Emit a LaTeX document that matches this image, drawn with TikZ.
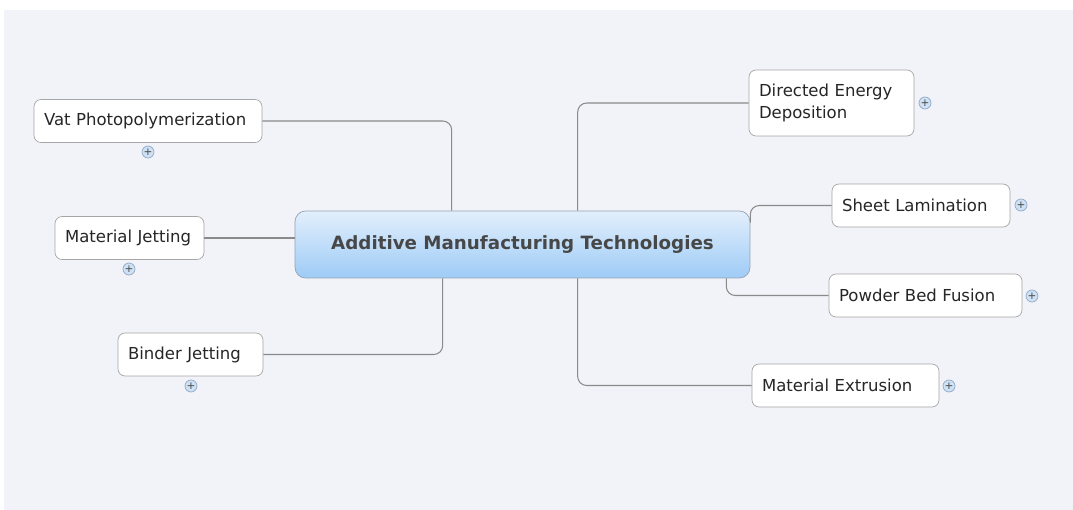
\documentclass[tikz,border=0pt]{standalone}
\usepackage{fontspec}
\setmainfont{DejaVu Sans}
\usepackage{xcolor}
\usetikzlibrary{calc}

\definecolor{canvas}{HTML}{F2F3F8}
\definecolor{boxline}{HTML}{A6A6A6}
\definecolor{linkline}{HTML}{8A8A8A}
\definecolor{boxtext}{HTML}{262626}
\definecolor{hubtop}{HTML}{E2EFFC}
\definecolor{hubbottom}{HTML}{9ECBF6}
\definecolor{hubline}{HTML}{94A3B5}
\definecolor{hubtext}{HTML}{474747}
\definecolor{plusfill}{HTML}{CFE1F4}
\definecolor{plusline}{HTML}{8FA9C8}

\begin{document}
\begin{tikzpicture}[x=0.02cm, y=-0.02cm,
  topic/.style={draw=boxline, fill=white, rounded corners=4pt, align=left, inner xsep=0.2cm, text=boxtext,
    minimum height=0.86cm, font=\fontsize{9.4}{12.5}\selectfont},
  hub/.style={draw=hubline, rounded corners=6pt, top color=hubtop, bottom color=hubbottom, minimum width=9.1cm,
    minimum height=1.34cm, text=hubtext, font=\fontsize{10.4}{12}\selectfont\bfseries},
  plus/.style={circle, draw=plusline, fill=plusfill, minimum size=0.24cm, inner sep=0pt, text=hubtext,
    font=\fontsize{6}{6}\selectfont},
  link/.style={draw=linkline, line width=0.6pt, rounded corners=0.18cm}]
\useasboundingbox (0,0) rectangle (1073,510);
\fill[canvas] (4,10) rectangle (1073,510);

\node[hub] (central) at (522.5,244.5) {Additive Manufacturing Technologies};

\node[topic, text width=4.16cm] (vat) at (148,121) {Vat Photopolymerization};
\node[topic, text width=2.58cm] (mjet) at (129.5,238) {Material Jetting};
\node[topic, text width=2.50cm] (binder) at (190.5,354.5) {Binder Jetting};
\node[topic, text width=2.90cm, minimum height=1.32cm] (ded) at (831.5,103) {Directed Energy\\Deposition};
\node[topic, text width=3.16cm] (sheet) at (921,205.5) {Sheet Lamination};
\node[topic, text width=3.46cm] (powder) at (925.5,295.5) {Powder Bed Fusion};
\node[topic, text width=3.34cm] (extr) at (845.5,385.5) {Material Extrusion};

\node[plus] (vatplus) at (148,152) {+};
\node[plus] (mjetplus) at (129,269) {+};
\node[plus] (binderplus) at (191,386) {+};
\node[plus] (dedplus) at (925,103) {+};
\node[plus] (sheetplus) at (1021,205) {+};
\node[plus] (powderplus) at (1032,296) {+};
\node[plus] (extrplus) at (949,386) {+};

\draw[link] (vat.east) -| ($(central.north west)+(157,0)$);
\draw[link] (mjet.east) -- (central.west |- mjet.east);
\draw[link] (binder.east) -| ($(central.south west)+(148,0)$);
\draw[link] (ded.west) -| ($(central.north west)+(283,0)$);
\draw[link] (sheet.west) -| ($(central.north east)+(0,12)$);
\draw[link] (powder.west) -| ($(central.south east)+(-24,0)$);
\draw[link] (extr.west) -| ($(central.south west)+(283,0)$);
\end{tikzpicture}
\end{document}
